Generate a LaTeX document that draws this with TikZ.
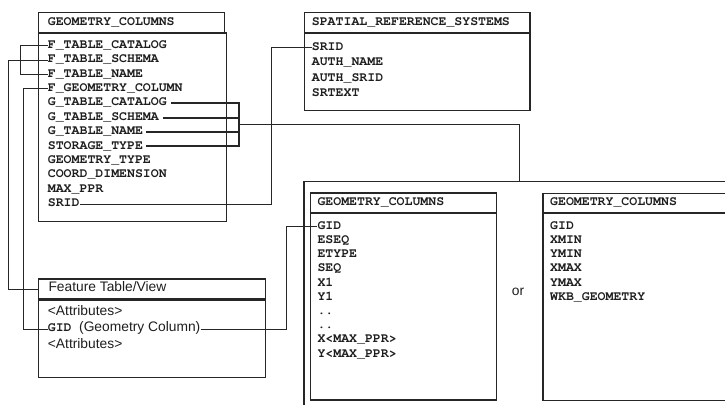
\documentclass[tikz,border=0pt]{standalone}
\usepackage{fontspec}
\setmainfont{Liberation Sans}
\newfontfamily\monof{texgyrecursor-bold.otf}
\newcommand\fldfont{\monof\fontsize{13.2}{14}\selectfont}
\newcommand\sansfont{\fontsize{13.8}{15}\selectfont}
\definecolor{linec}{HTML}{262626}
\definecolor{txtc}{HTML}{1E1E1E}
\tikzset{
  box/.style={draw=linec, line width=1.2pt, inner sep=0pt, anchor=north west},
  sepline/.style={draw=linec, line width=2pt},
  fld/.style={font=\fldfont, text=txtc, inner sep=0pt, anchor=mid west},
  sfld/.style={font=\sansfont, text=txtc, inner sep=0pt, anchor=mid west},
  conn/.style={draw=linec, line width=1pt},
  gconn/.style={draw=linec, line width=2pt},
}
\begin{document}
\begin{tikzpicture}[x=1pt,y=-1pt]
\useasboundingbox (0,0) rectangle (725,404);
\clip (0,0) rectangle (725,404);

% ---------- GEOMETRY_COLUMNS (metadata table) ----------
\node[box, minimum width=185.5pt, minimum height=20.7pt] (gc1h) at (38,12.3) {};
\node[box, minimum width=187.5pt, minimum height=188pt] (gc1b) at (38,33) {};
\draw[sepline] (gc1b.north west) -- (gc1b.north east);
\node[fld] (gc1t) at (47.7,23) {GEOMETRY\_COLUMNS};
\node[fld] (ptc)   at (47.7,45.7)  {F\_TABLE\_CATALOG};
\node[fld] (pts)   at (47.7,60.1)  {F\_TABLE\_SCHEMA};
\node[fld] (ptn)   at (47.7,74.5)  {F\_TABLE\_NAME};
\node[fld] (pgc)   at (47.7,88.9)  {F\_GEOMETRY\_COLUMN};
\node[fld] (gtc)   at (47.7,103.3) {G\_TABLE\_CATALOG};
\node[fld] (gts)   at (47.7,117.7) {G\_TABLE\_SCHEMA};
\node[fld] (gtn)   at (47.7,132.0) {G\_TABLE\_NAME};
\node[fld] (stt)   at (47.7,146.4) {STORAGE\_TYPE};
\node[fld] (gty)   at (47.7,160.8) {GEOMETRY\_TYPE};
\node[fld] (cdm)   at (47.7,175.2) {COORD\_DIMENSION};
\node[fld] (mpp)   at (47.7,189.6) {MAX\_PPR};
\node[fld] (srid1) at (47.7,204.0) {SRID};

% ---------- SPATIAL_REFERENCE_SYSTEMS ----------
\node[box, minimum width=225.3pt, minimum height=20.7pt] (srsh) at (304,12.3) {};
\node[box, minimum width=225.3pt, minimum height=77pt] (srsb) at (304,33) {};
\draw[sepline] (srsb.north west) -- (srsb.north east);
\node[fld] (srst)  at (311.7,23)   {SPATIAL\_REFERENCE\_SYSTEMS};
\node[fld] (srid2) at (311.7,47.7) {SRID};
\node[fld] (auth)  at (311.7,63.2) {AUTH\_NAME};
\node[fld] (asrid) at (311.7,78.7) {AUTH\_SRID};
\node[fld] (srtx)  at (311.7,94.2) {SRTEXT};

% ---------- Feature Table/View ----------
\node[box, minimum width=227pt, minimum height=21pt] (fth) at (38,278.3) {};
\node[box, minimum width=227pt, minimum height=77.4pt] (ftb) at (38,299.3) {};
\draw[sepline] (ftb.north west) -- (ftb.north east);
\node[sfld] (ftt)  at (48.3,288.8) {Feature Table/View};
\node[sfld] (fat1) at (47.7,313.3) {<Attributes>};
\node[sfld] (fgid) at (47.7,329.3) {{\fldfont GID}\hspace{7.5pt}(Geometry Column)};
\node[sfld] (fat2) at (47.7,345.7) {<Attributes>};

% ---------- geometry storage frame ----------
\coordinate (frametop) at (519.3,181.5);
\draw[draw=linec, line width=1.2pt] (304,420) -- (304,181.5) -- (740,181.5);

% normalized geometry table
\node[box, minimum width=185.7pt, minimum height=20.4pt] (gc2h) at (310,192.3) {};
\node[box, minimum width=185.7pt, minimum height=186.6pt] (gc2b) at (310,212.7) {};
\draw[sepline] (gc2b.north west) -- (gc2b.north east);
\node[fld] (gc2t) at (317.3,202.5) {GEOMETRY\_COLUMNS};
\node[fld] (g2gid) at (317.3,226.7) {GID};
\node[fld] (eseq)  at (317.3,240.9) {ESEQ};
\node[fld] (etyp)  at (317.3,255.1) {ETYPE};
\node[fld] (seq)   at (317.3,269.3) {SEQ};
\node[fld] (x1)    at (317.3,283.5) {X1};
\node[fld] (y1)    at (317.3,297.7) {Y1};
\node[fld] (dd1)   at (317.3,311.9) {..};
\node[fld] (dd2)   at (317.3,326.1) {..};
\node[fld] (xm)    at (317.3,340.3) {X<MAX\_PPR>};
\node[fld] (ym)    at (317.3,354.5) {Y<MAX\_PPR>};

\node[sfld, anchor=center] (or) at (518,291.5) {or};

% binary geometry table
\node[box, minimum width=186pt, minimum height=20pt] (gc3h) at (542.3,192.7) {};
\node[box, minimum width=186pt, minimum height=187.3pt] (gc3b) at (542.3,212.7) {};
\draw[sepline] (gc3b.north west) -- (gc3b.north east);
\node[fld] (gc3t) at (550,202.7) {GEOMETRY\_COLUMNS};
\node[fld] (g3gid) at (550,226.7) {GID};
\node[fld] (xmin)  at (550,240.9) {XMIN};
\node[fld] (ymin)  at (550,255.1) {YMIN};
\node[fld] (xmax)  at (550,269.3) {XMAX};
\node[fld] (ymax)  at (550,283.5) {YMAX};
\node[fld] (wkb)   at (550,297.7) {WKB\_GEOMETRY};

% ---------- connectors ----------
\draw[conn] (ptc.mid west) -- ++(-27,0) |- (ptn.mid west);
\draw[conn] (pts.mid west) -- ++(-39.4,0) |- (fth.west);
\draw[conn] (pgc.mid west) -- ++(-24.4,0) |- (fgid.mid west);
\draw[conn] (fgid.mid east) -| ([xshift=-30.6pt]g2gid.mid west) -- (g2gid.mid west);
\draw[conn] ([xshift=0.5pt]srid1.mid east) -| ([xshift=-40pt]srid2.mid west) -- (srid2.mid west);

\coordinate (gbx) at (238.7,124.9);
\draw[gconn] ([xshift=4.5pt]gtc.mid east) -- (gtc.mid east -| gbx)
  -- (stt.mid east -| gbx) -- ([xshift=3pt]stt.mid east);
\draw[gconn] ([xshift=4.5pt]gts.mid east) -- (gts.mid east -| gbx);
\draw[gconn] ([xshift=3pt]gtn.mid east) -- (gtn.mid east -| gbx);
\draw[conn] (gbx) -| (frametop);
\end{tikzpicture}
\end{document}
